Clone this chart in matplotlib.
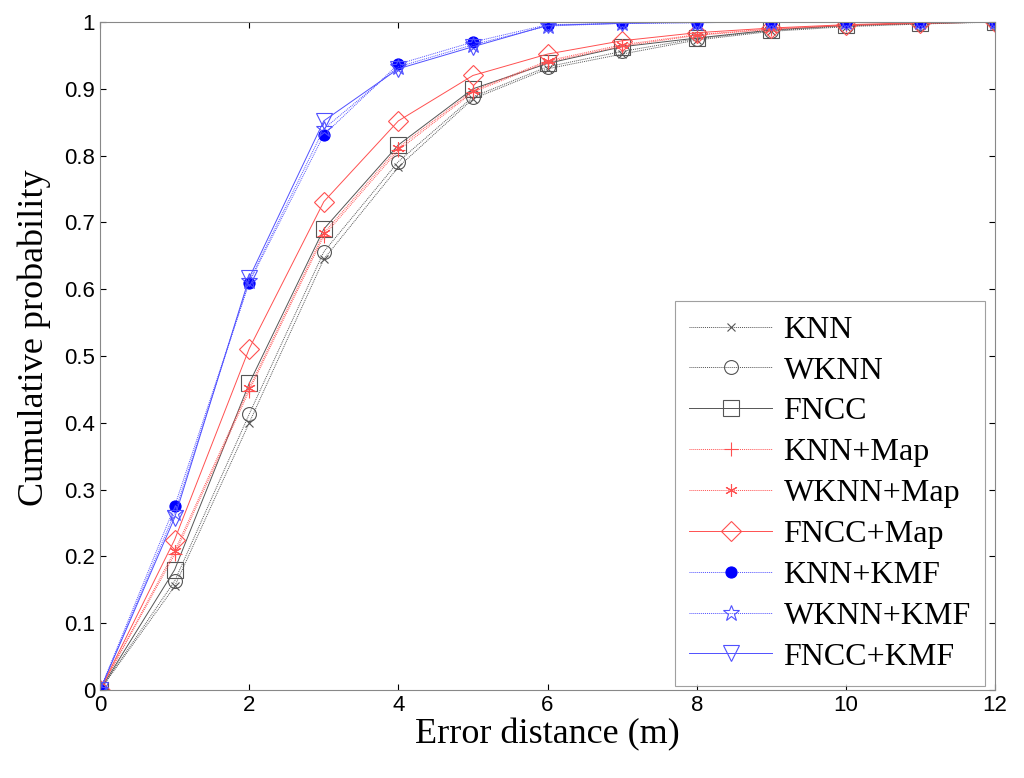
import numpy as np
import matplotlib.pyplot as plt

# error distance (m)
dist = np.arange(0, 13)

knn = [0, 0.155, 0.400, 0.645, 0.783, 0.885, 0.930, 0.952, 0.973, 0.986, 0.993, 0.997, 1.0]
wknn = [0, 0.163, 0.413, 0.656, 0.791, 0.888, 0.933, 0.956, 0.975, 0.987, 0.994, 0.998, 1.0]
fncc = [0, 0.180, 0.459, 0.690, 0.816, 0.900, 0.938, 0.963, 0.976, 0.988, 0.995, 0.998, 1.0]
knn_map = [0, 0.203, 0.448, 0.680, 0.808, 0.895, 0.940, 0.964, 0.980, 0.989, 0.995, 0.998, 1.0]
wknn_map = [0, 0.208, 0.452, 0.684, 0.812, 0.897, 0.942, 0.966, 0.981, 0.990, 0.995, 0.998, 1.0]
fncc_map = [0, 0.225, 0.511, 0.731, 0.852, 0.920, 0.952, 0.972, 0.984, 0.991, 0.996, 0.999, 1.0]
knn_kmf = [0, 0.275, 0.610, 0.831, 0.937, 0.970, 0.996, 0.998, 0.999, 1.0, 1.0, 1.0, 1.0]
wknn_kmf = [0, 0.265, 0.612, 0.840, 0.933, 0.966, 0.994, 0.998, 0.999, 1.0, 1.0, 1.0, 1.0]
fncc_kmf = [0, 0.258, 0.617, 0.852, 0.930, 0.963, 0.995, 0.998, 1.0, 1.0, 1.0, 1.0, 1.0]

labels = ['KNN', 'WKNN', 'FNCC', 'KNN+Map', 'WKNN+Map', 'FNCC+Map',
          'KNN+KMF', 'WKNN+KMF', 'FNCC+KMF']
series = [knn, wknn, fncc, knn_map, wknn_map, fncc_map, knn_kmf, wknn_kmf, fncc_kmf]

dot = (0, (1, 1))
black, red, blue = '#555555', '#ff5050', '#5050ff'
asterisk = (6, 2, 0)
styles = [
    dict(color=black, marker='x', ls=dot, ms=6, mfc='none'),
    dict(color=black, marker='o', ls=dot, ms=10, mfc='none'),
    dict(color=black, marker='s', ls='-', ms=11, mfc='none'),
    dict(color=red, marker='+', ls=dot, ms=10, mfc='none'),
    dict(color=red, marker=asterisk, ls=dot, ms=9, mfc='none'),
    dict(color=red, marker='D', ls='-', ms=10, mfc='none'),
    dict(color=blue, marker='o', ls=dot, ms=8, mfc='#0000ff'),
    dict(color=blue, marker='*', ls=dot, ms=12, mfc='none'),
    dict(color=blue, marker='v', ls='-', ms=12, mfc='none'),
]

fig = plt.figure(figsize=(10.24, 7.78), dpi=100)
ax = fig.add_axes([0.0977, 0.1131, 0.874, 0.8586])

for y, lab, st in zip(series, labels, styles):
    mec = '#0000ff' if st['mfc'] == '#0000ff' else st['color']
    ax.plot(dist, y, lw=0.7, mew=0.8, label=lab,
            color=st['color'], marker=st['marker'], ls=st['ls'],
            ms=st['ms'], mfc=st['mfc'], mec=mec)

ax.set_xlim(0, 12)
ax.set_ylim(0, 1)
ax.set_xticks(range(0, 13, 2))
ax.set_yticks(np.arange(0, 1.01, 0.1))
ax.set_yticklabels(['0', '0.1', '0.2', '0.3', '0.4', '0.5', '0.6', '0.7', '0.8', '0.9', '1'])
ax.tick_params(direction='in', length=4, top=True, right=True, labelsize=16)
for lab in ax.get_xticklabels() + ax.get_yticklabels():
    lab.set_family('Liberation Sans')
for sp in ax.spines.values():
    sp.set_color('#888888')

ax.set_xlabel('Error distance (m)', family='Liberation Serif', fontsize=26, labelpad=2)
ax.set_ylabel('Cumulative probability', family='Liberation Serif', fontsize=26)
ax.yaxis.set_label_coords(-0.055, 0.528)

leg = ax.legend(loc='lower right', bbox_to_anchor=(0.989, 0.006), borderaxespad=0,
                prop={'family': 'Liberation Serif', 'size': 23}, fancybox=False,
                handlelength=2.6, labelspacing=0.36, borderpad=0.45, handletextpad=0.35)
leg.get_frame().set_edgecolor('#888888')
leg.get_frame().set_linewidth(0.8)

fig.savefig('out.png', dpi=100)
